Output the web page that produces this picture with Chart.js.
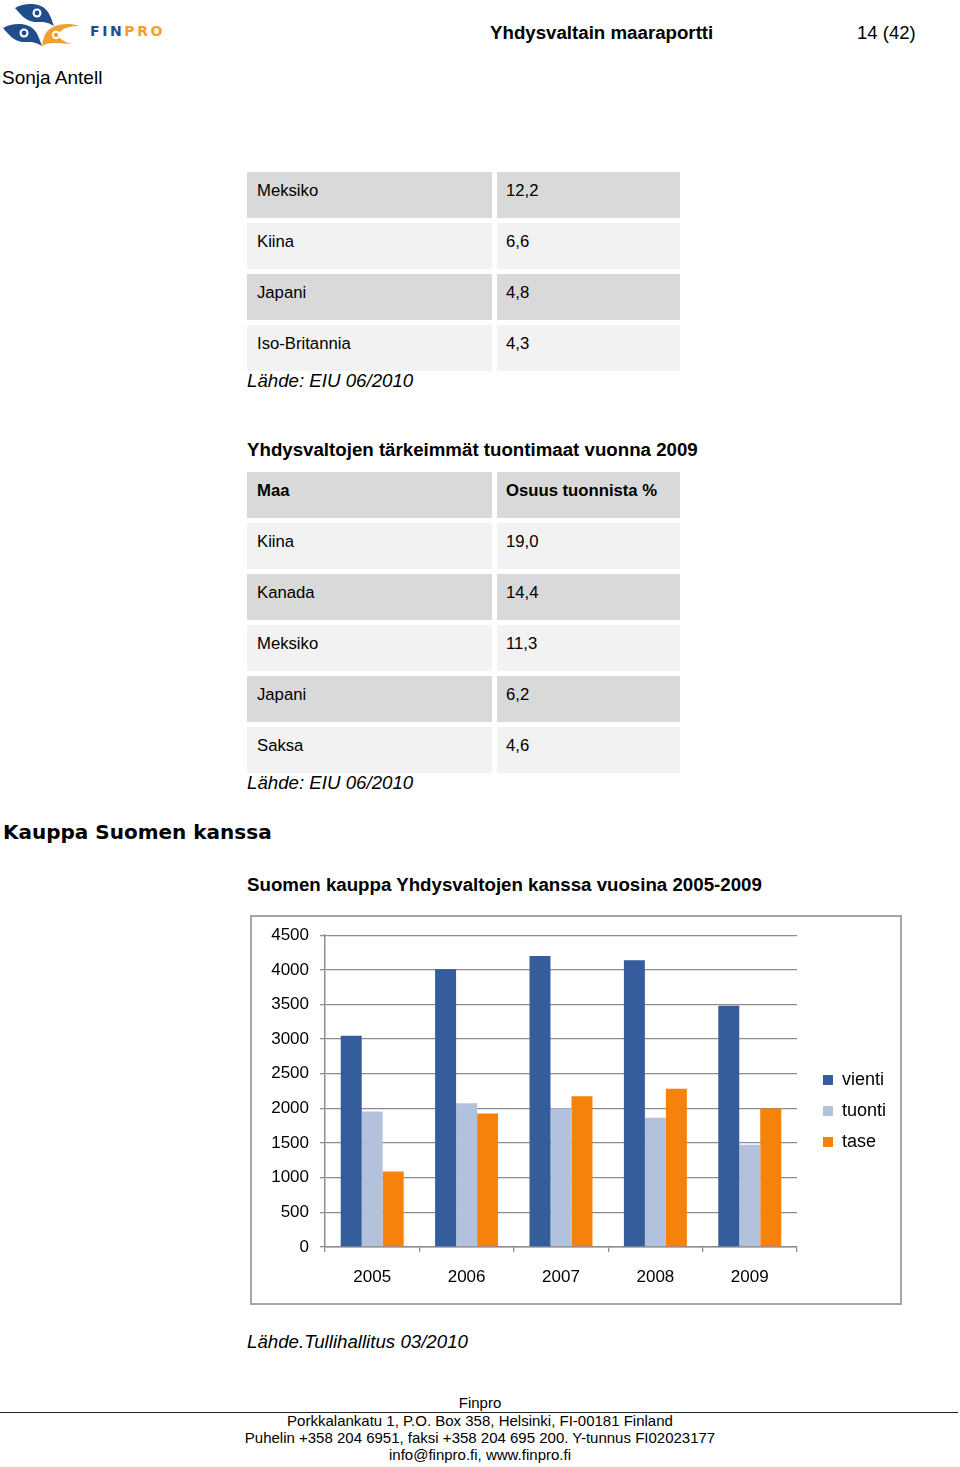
<!DOCTYPE html>
<html lang="fi">
<head>
<meta charset="utf-8">
<title>Yhdysvaltain maaraportti</title>
<script src="https://cdn.jsdelivr.net/npm/chart.js@4.4.0/dist/chart.umd.min.js"></script>
<style>
html, body { margin: 0; padding: 0; background: #fff; }
body { width: 960px; height: 1467px; position: relative; overflow: hidden;
       font-family: 'Liberation Sans', Arial, sans-serif; color: #000; }
.abs { position: absolute; white-space: nowrap; line-height: 1.2; }
.b { font-weight: bold; }
.i { font-style: italic; }
.cell { position: absolute; height: 46px; box-sizing: border-box; padding: 8.5px 0 0 10px;
        font-size: 16.7px; line-height: 19px; white-space: nowrap; }
.cell.c2 { padding-left: 9px; }
.dark { background: #d9d9d9; }
.light { background: #f2f2f2; }
#chartBox { position: absolute; left: 250px; top: 915px; width: 652px; height: 390px;
            box-sizing: border-box; border: 2px solid #a6a6a6; }
#chartWrap { position: absolute; left: 0; top: -3px; width: 648px; height: 389px; }
.foot { position: absolute; left: 0; width: 960px; text-align: center; font-size: 15px; line-height: 17px; }
#footLine { position: absolute; left: 0; top: 1412px; width: 958px; height: 0; border-top: 1px solid #222; }
</style>
</head>
<body>

<svg class="abs" style="left:0;top:0" width="90" height="50" viewBox="0 0 90 50">
  <path d="M15 8 C25 2 42 2 48 12 C51 17 52 21 54 26 C47 21 40 22 34 22 C26 21 20 14 15 8 Z" fill="#1f4e8a"/>
  <circle cx="37" cy="13" r="4.5" fill="#fff"/><circle cx="37" cy="13" r="2.4" fill="#1f4e8a"/>
  <path d="M3 28 C13 22 30 22 36 32 C39 37 40 41 42 46 C35 41 28 42 22 42 C14 41 8 34 3 28 Z" fill="#1f4e8a"/>
  <circle cx="24" cy="33" r="4.5" fill="#fff"/><circle cx="24" cy="33" r="2.4" fill="#1f4e8a"/>
  <path d="M79 26 C68 22 52 24 46 33 C43 38 43 42 42 46 C50 41 62 44 72 44 C64 42 58 38 58 34 C62 28 70 26 79 26 Z" fill="#f0a030"/>
  <circle cx="56" cy="35" r="4.2" fill="#fff"/><circle cx="56" cy="35" r="2.2" fill="#f0a030"/>
</svg>
<div class="abs" style="left:90px;top:23px;font-family:'DejaVu Sans';font-weight:bold;font-size:14px;letter-spacing:2.6px"><span style="color:#1f4e8a">FIN</span><span style="color:#f0a030">PRO</span></div>

<div class="abs b" style="left:490px;top:22px;font-size:18.7px">Yhdysvaltain maaraportti</div>
<div class="abs" style="left:857px;top:22px;font-size:18.5px">14 (42)</div>
<div class="abs" style="left:2px;top:67px;font-size:19px">Sonja Antell</div>

<div id="taulu1"></div>
<div class="abs i" style="left:247px;top:370px;font-size:18.7px">Lähde: EIU 06/2010</div>

<div class="abs b" style="left:247px;top:439px;font-size:18.7px">Yhdysvaltojen tärkeimmät tuontimaat vuonna 2009</div>
<div id="taulu2"></div>
<div class="abs i" style="left:247px;top:772px;font-size:18.7px">Lähde: EIU 06/2010</div>

<div class="abs" style="left:3px;top:820px;font-family:'DejaVu Sans';font-weight:bold;font-size:20px">Kauppa Suomen kanssa</div>

<div class="abs b" style="left:247px;top:874px;font-size:18.7px">Suomen kauppa Yhdysvaltojen kanssa vuosina 2005-2009</div>
<div id="chartBox"><div id="chartWrap"><canvas id="kauppaChart"></canvas></div></div>

<div class="abs i" style="left:247px;top:1331px;font-size:18.7px">Lähde.Tullihallitus 03/2010</div>

<div class="foot" style="top:1394px">Finpro</div>
<div id="footLine"></div>
<div class="foot" style="top:1412px">Porkkalankatu 1, P.O. Box 358, Helsinki, FI-00181 Finland</div>
<div class="foot" style="top:1429px">Puhelin +358 204 6951, faksi +358 204 695 200. Y-tunnus FI02023177</div>
<div class="foot" style="top:1446px">info@finpro.fi, www.finpro.fi</div>

<script>
// taulukot
const vientiMaat = ['Meksiko', 'Kiina', 'Japani', 'Iso-Britannia'];
const vientiOsuus = ['12,2', '6,6', '4,8', '4,3'];

const tuontiOtsikot = ['Maa', 'Osuus tuonnista %'];
const tuontiMaat = ['Kiina', 'Kanada', 'Meksiko', 'Japani', 'Saksa'];
const tuontiOsuus = ['19,0', '14,4', '11,3', '6,2', '4,6'];

// kaavio
const vuodet = ['2005', '2006', '2007', '2008', '2009'];
const vienti = [3050, 4010, 4200, 4140, 3480];
const tuonti = [1955, 2075, 2000, 1865, 1475];
const tase = [1090, 1925, 2175, 2285, 2000];

function rakennaTaulukko(id, top, rivit) {
    const el = document.getElementById(id);
    rivit.forEach((rivi, i) => {
        const cls = i % 2 === 0 ? 'dark' : 'light';
        const y = top + i * 51;
        const c1 = document.createElement('div');
        c1.className = 'cell ' + cls + (rivi.bold ? ' b' : '');
        c1.style.cssText = 'left:247px;width:245px;top:' + y + 'px';
        c1.textContent = rivi.maa;
        const c2 = document.createElement('div');
        c2.className = 'cell c2 ' + cls + (rivi.bold ? ' b' : '');
        c2.style.cssText = 'left:497px;width:183px;top:' + y + 'px';
        c2.textContent = rivi.arvo;
        el.appendChild(c1);
        el.appendChild(c2);
    });
}

rakennaTaulukko('taulu1', 172, vientiMaat.map((m, i) => ({ maa: m, arvo: vientiOsuus[i] })));
rakennaTaulukko('taulu2', 472, [{ maa: tuontiOtsikot[0], arvo: tuontiOtsikot[1], bold: true }]
    .concat(tuontiMaat.map((m, i) => ({ maa: m, arvo: tuontiOsuus[i] }))));

Chart.defaults.font.family = "'Liberation Sans', Arial, sans-serif";
Chart.defaults.font.size = 17;
Chart.defaults.color = '#000';

const ctxKauppa = document.getElementById('kauppaChart');

const dataKauppa = {
    labels: vuodet,
    datasets: [
        { label: 'vienti', data: vienti, backgroundColor: '#355c9b' },
        { label: 'tuonti', data: tuonti, backgroundColor: '#b3c2dc' },
        { label: 'tase', data: tase, backgroundColor: '#f5820a' }
    ]
};

const configKauppa = {
    type: 'bar',
    data: dataKauppa,
    options: {
        maintainAspectRatio: false,
        responsive: true,
        animation: false,
        categoryPercentage: 0.667,
        barPercentage: 1.0,
        layout: {
            padding: { top: 16, right: 4, bottom: 11, left: 0 }
        },
        plugins: {
            legend: {
                position: 'right',
                labels: { boxWidth: 10, boxHeight: 10, padding: 13, color: '#000', font: { size: 18 } }
            },
            tooltip: { enabled: false }
        },
        scales: {
            x: {
                grid: { drawOnChartArea: false, color: '#8c8c8c', lineWidth: 1.3, tickLength: 5 },
                border: { color: '#8c8c8c', width: 1.5 },
                ticks: { padding: 15 },
                afterFit: (s) => { s.height = 45; }
            },
            y: {
                min: 0,
                max: 4500,
                ticks: { stepSize: 500, padding: 11, format: { useGrouping: false } },
                grid: { color: '#8c8c8c', lineWidth: 1.3, tickLength: 5 },
                border: { color: '#8c8c8c', width: 1.5 },
                afterFit: (s) => { s.width = 73; }
            },
            // tyhjä akseli: väli kuvaajan ja selitteen välissä
            gap: {
                type: 'linear',
                position: 'right',
                grid: { display: false },
                border: { display: false },
                ticks: { display: false },
                afterFit: (s) => { s.width = 13; }
            }
        }
    }
};

const barChartKauppa = new Chart(ctxKauppa, configKauppa);
</script>
</body>
</html>
